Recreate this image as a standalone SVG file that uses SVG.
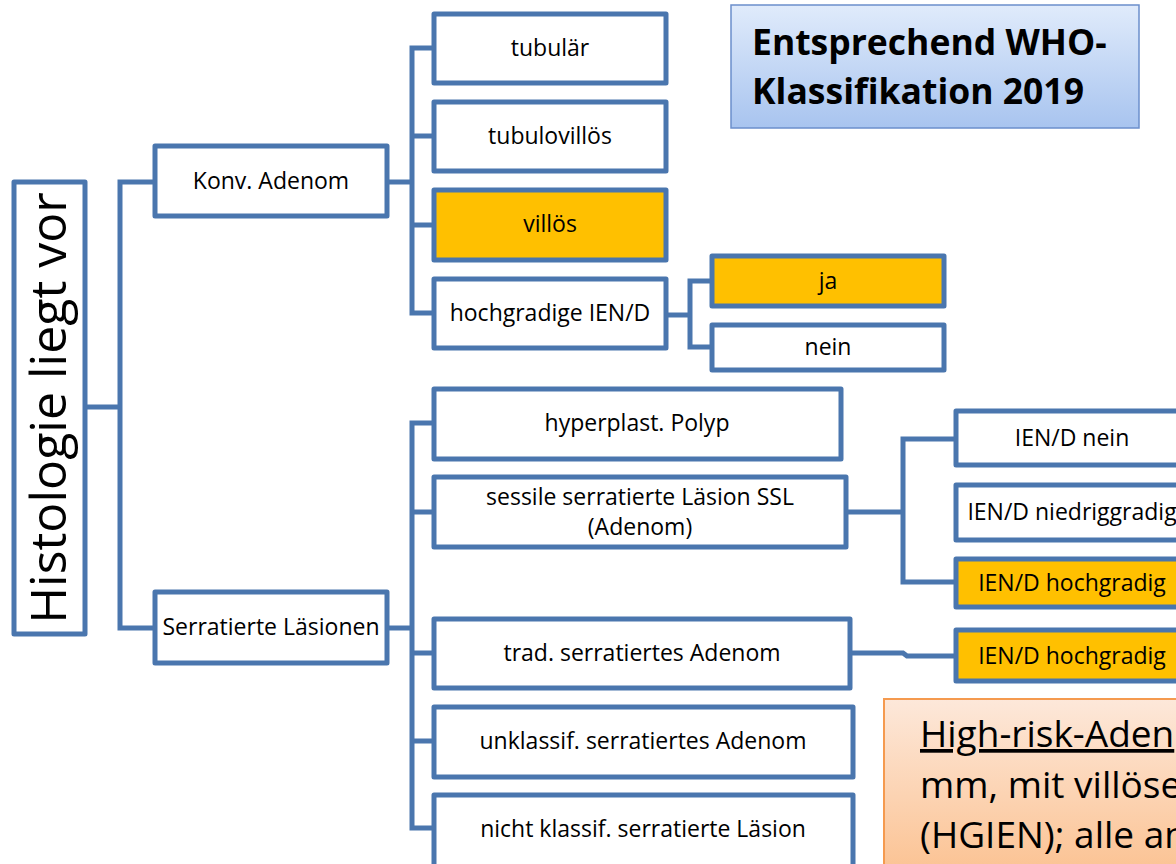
<svg xmlns="http://www.w3.org/2000/svg" width="1176" height="864" viewBox="0 0 1176 864">
<defs>
<linearGradient id="gWho" x1="0" y1="0" x2="0" y2="1">
<stop offset="0" stop-color="#e0ebfb"/>
<stop offset="1" stop-color="#a8c4ef"/>
</linearGradient>
<linearGradient id="gOr" x1="0" y1="0" x2="0" y2="1">
<stop offset="0" stop-color="#fde8da"/>
<stop offset="1" stop-color="#fbbd88"/>
</linearGradient>
<style>
.box{fill:#ffffff;stroke:#4a76ae;stroke-width:5;stroke-linejoin:round}
.hi{fill:#ffc000}
.lbl{font-family:"Open Sans","Liberation Sans",sans-serif;font-size:23px;fill:#000;text-anchor:middle}
.con{fill:none;stroke:#4a76ae;stroke-width:5;stroke-linejoin:miter}
.big{font-family:"Open Sans","Liberation Sans",sans-serif;font-size:37px;fill:#000}
.who{font-family:"Open Sans","Liberation Sans",sans-serif;font-weight:bold;font-size:35.5px;fill:#000}
</style>
</defs>
<rect width="1176" height="864" fill="#ffffff"/>

<g id="connectors">
<path class="con" d="M87,407 H120"/>
<path class="con" d="M155,182 H120 V628 H155"/>
<path class="con" d="M389,182 H412"/>
<path class="con" d="M434,48 H412 V313 H434 M412,136 H434 M412,225 H434"/>
<path class="con" d="M668,315 H690"/>
<path class="con" d="M712,281 H690 V347 H712"/>
<path class="con" d="M389,628 H412"/>
<path class="con" d="M434,423 H412 V828 H434 M412,512 H434 M412,653 H434 M412,741 H434"/>
<path class="con" d="M848,512 H903"/>
<path class="con" d="M956,439 H903 V582 H956"/>
<path class="con" d="M852,653 H903 L907,656 H956"/>
</g>

<g id="who">
<rect x="731" y="5" width="408" height="123" fill="url(#gWho)" stroke="#6b8fcc" stroke-width="1.5"/>
<text class="who" x="752" y="55">Entsprechend WHO-</text>
<text class="who" x="752" y="104">Klassifikation 2019</text>
</g>

<g id="histologie">
<rect class="box" x="14" y="182" width="71" height="452"/>
<text transform="translate(66,408) rotate(-90)" font-family="Open Sans,Liberation Sans,sans-serif" font-size="50" text-anchor="middle" fill="#000">Histologie liegt vor</text>
</g>

<g id="konv">
<rect class="box" x="155" y="146" width="232" height="70"/>
<text class="lbl" x="271" y="189">Konv. Adenom</text>
</g>

<g id="serratierte">
<rect class="box" x="155" y="592" width="232" height="71"/>
<text class="lbl" x="271" y="635">Serratierte Läsionen</text>
</g>

<g id="tubular">
<rect class="box" x="434" y="14" width="232" height="69"/>
<text class="lbl" x="550" y="56">tubulär</text>
</g>

<g id="tubulovillos">
<rect class="box" x="434" y="102" width="232" height="69"/>
<text class="lbl" x="550" y="144">tubulovillös</text>
</g>

<g id="villos">
<rect class="box hi" x="434" y="190" width="232" height="70"/>
<text class="lbl" x="550" y="232">villös</text>
</g>

<g id="hochgradige">
<rect class="box" x="434" y="279" width="232" height="69"/>
<text class="lbl" x="550" y="321">hochgradige IEN/D</text>
</g>

<g id="ja">
<rect class="box hi" x="712" y="256" width="232" height="50"/>
<text class="lbl" x="828" y="289">ja</text>
</g>

<g id="nein">
<rect class="box" x="712" y="325" width="232" height="45"/>
<text class="lbl" x="828" y="355">nein</text>
</g>

<g id="hyperplast">
<rect class="box" x="434" y="389" width="407" height="70"/>
<text class="lbl" x="637" y="431">hyperplast. Polyp</text>
</g>

<g id="sessile">
<rect class="box" x="434" y="477" width="412" height="70"/>
<text class="lbl" x="640" y="505">sessile serratierte Läsion SSL</text>
<text class="lbl" x="640" y="535">(Adenom)</text>
</g>

<g id="trad">
<rect class="box" x="434" y="619" width="416" height="69"/>
<text class="lbl" x="642" y="661">trad. serratiertes Adenom</text>
</g>

<g id="unklassif">
<rect class="box" x="434" y="707" width="419" height="70"/>
<text class="lbl" x="643" y="749">unklassif. serratiertes Adenom</text>
</g>

<g id="nicht">
<rect class="box" x="434" y="795" width="419" height="80"/>
<text class="lbl" x="643" y="837">nicht klassif. serratierte Läsion</text>
</g>

<g id="ien-nein">
<rect class="box" x="956" y="411" width="232" height="54"/>
<text class="lbl" x="1072" y="446">IEN/D nein</text>
</g>

<g id="ien-niedrig">
<rect class="box" x="956" y="485" width="232" height="55"/>
<text class="lbl" x="1072" y="520">IEN/D niedriggradig</text>
</g>

<g id="ien-hoch1">
<rect class="box hi" x="956" y="559" width="232" height="48"/>
<text class="lbl" x="1072" y="591">IEN/D hochgradig</text>
</g>

<g id="ien-hoch2">
<rect class="box hi" x="956" y="630" width="232" height="51"/>
<text class="lbl" x="1072" y="664">IEN/D hochgradig</text>
</g>

<g id="highrisk">
<rect x="884" y="699" width="320" height="200" fill="url(#gOr)" stroke="#f59a4f" stroke-width="2"/>
<text class="big" x="920" y="747" text-decoration="underline">High-risk-Aden</text>
<text class="big" x="920" y="798">mm, mit villöse</text>
<text class="big" x="920" y="848">(HGIEN); alle an</text>
</g>
</svg>
